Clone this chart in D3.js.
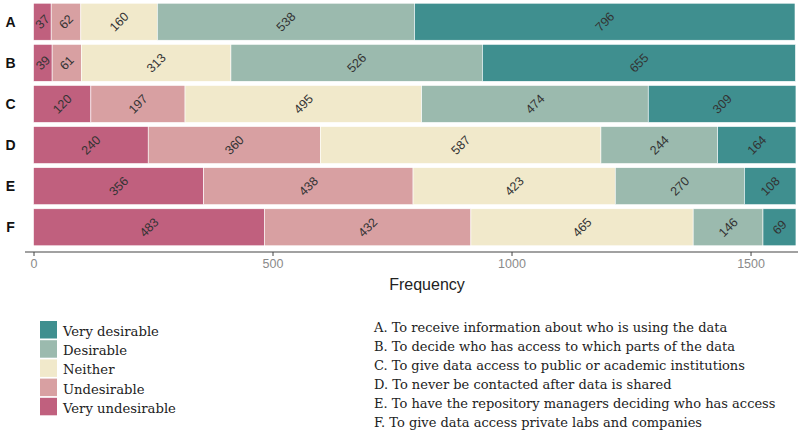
<!DOCTYPE html>
<html><head><meta charset="utf-8">
<script src="https://cdn.jsdelivr.net/npm/d3@7"></script>
<style>body{margin:0;background:#fff}svg{display:block}</style>
</head><body>
<svg id="c" width="800" height="434"></svg>
<script>
const categories = ["A","B","C","D","E","F"];
const levels = ["Very undesirable","Undesirable","Neither","Desirable","Very desirable"];
const veryUndesirable = [37,39,120,240,356,483];
const undesirable = [62,61,197,360,438,432];
const neither = [160,313,495,587,423,465];
const desirable = [538,526,474,244,270,146];
const veryDesirable = [796,655,309,164,108,69];
const xTicks = [0,500,1000,1500];
const descriptions = [
 "A. To receive information about who is using the data",
 "B. To decide who has access to which parts of the data",
 "C. To give data access to public or academic institutions",
 "D. To never be contacted after data is shared",
 "E. To have the repository managers deciding who has access",
 "F. To give data access private labs and companies"];
const colors = ["#c0607e","#d8a0a2","#f1e9cb","#9bbaae","#3f8f8f"];

const series = [veryUndesirable,undesirable,neither,desirable,veryDesirable];
const rows = categories.map((c,i)=>{const o={cat:c}; levels.forEach((l,j)=>o[l]=series[j][i]); return o;});
const stacked = d3.stack().keys(levels)(rows);

const svg = d3.select("#c");
const x = d3.scaleLinear().domain([0,1593]).range([33.5,795]);
const y = d3.scaleBand().domain(categories).range([2,247]).paddingInner(0.1).paddingOuter(0.03);
const color = d3.scaleOrdinal().domain(levels).range(colors);

const g = svg.append("g");
stacked.forEach(layer=>{
  g.selectAll(null).data(layer).join("rect")
   .attr("x",d=>x(d[0])).attr("width",d=>x(d[1])-x(d[0]))
   .attr("y",d=>y(d.data.cat)).attr("height",y.bandwidth())
   .attr("fill",color(layer.key)).attr("stroke","#fff").attr("stroke-width",0.6);
  g.selectAll(null).data(layer).join("text")
   .attr("transform",d=>`translate(${x((d[0]+d[1])/2)},${y(d.data.cat)+y.bandwidth()/2}) rotate(-45)`)
   .attr("text-anchor","middle").attr("dy","0.35em")
   .attr("font-family","Liberation Sans, Arial, sans-serif").attr("font-size",12.5)
   .attr("fill","#333").text(d=>d[1]-d[0]);
});

svg.selectAll(null).data(categories).join("text")
  .attr("x",10.5).attr("y",d=>y(d)+y.bandwidth()/2).attr("dy","0.35em")
  .attr("text-anchor","middle").attr("font-family","Liberation Sans, Arial, sans-serif")
  .attr("font-weight","bold").attr("font-size",14).attr("fill","#111").text(d=>d);

const ax = svg.append("g").attr("transform","translate(0,252)")
  .call(d3.axisBottom(x).tickValues(xTicks).tickFormat(d3.format("d")).tickSize(4).tickPadding(3));
ax.select(".domain").attr("d","M25,0H798").attr("stroke","#444").attr("stroke-width",1.2);
ax.selectAll(".tick line").attr("stroke","#444");
ax.selectAll(".tick text").attr("font-family","Liberation Sans, Arial, sans-serif")
  .attr("font-size",12.5).attr("fill","#8a8a8a");
svg.append("text").attr("x",427).attr("y",290).attr("text-anchor","middle")
  .attr("font-family","Liberation Sans, Arial, sans-serif").attr("font-size",16).attr("fill","#222").text("Frequency");

const legendOrder = levels.slice().reverse();
const lg = svg.append("g");
legendOrder.forEach((l,i)=>{
  lg.append("rect").attr("x",40).attr("y",321+i*19.2).attr("width",17).attr("height",17.5)
    .attr("fill",color(l));
  lg.append("text").attr("x",63).attr("y",336+i*19.2).attr("font-family","DejaVu Serif, serif")
    .attr("font-size",13.2).attr("fill","#222").text(l);
});
svg.selectAll(null).data(descriptions).join("text")
  .attr("x",374).attr("y",(d,i)=>332+i*19).attr("font-family","DejaVu Serif, serif")
  .attr("font-size",13).attr("fill","#222").text(d=>d);
</script>
</body></html>
